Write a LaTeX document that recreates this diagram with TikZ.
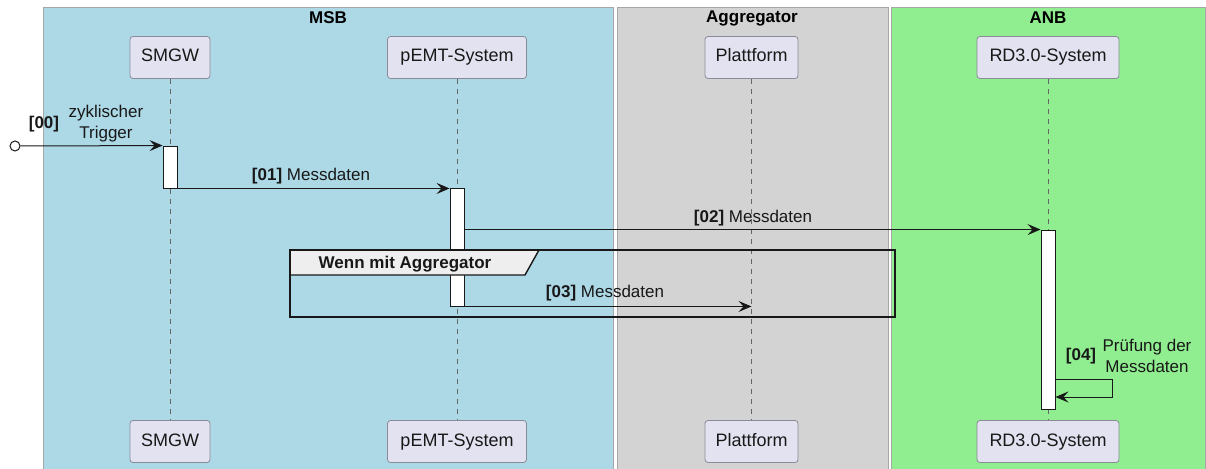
\documentclass[tikz,border=0pt]{standalone}
\usepackage{fontspec}
\setmainfont{Liberation Sans}
\usetikzlibrary{arrows.meta,calc}
\definecolor{msbfill}{HTML}{ADD8E6}
\definecolor{aggfill}{HTML}{D3D3D3}
\definecolor{anbfill}{HTML}{90EE90}
\definecolor{partfill}{HTML}{E2E2F0}
\definecolor{partline}{HTML}{8A8A99}
\definecolor{ink}{HTML}{181818}
\definecolor{tabfill}{HTML}{EEEEEE}
\begin{document}
\begin{tikzpicture}[x=1pt,y=-1pt,
  lane/.style={draw=gray!70, line width=0.8pt},
  lanetitle/.style={font=\fontsize{17}{20}\selectfont\bfseries, text=black},
  part/.style={draw=partline, fill=partfill, rounded corners=3pt, line width=0.8pt,
    minimum height=42pt, inner sep=0pt, text height=13pt, text depth=4pt,
    font=\fontsize{18}{21}\selectfont, text=ink},
  life/.style={draw=gray!80!black, dash pattern=on 5pt off 5pt, line width=0.7pt},
  act/.style={draw=ink, fill=white, line width=0.9pt, minimum width=14pt, inner sep=0pt},
  msg/.style={draw=ink, line width=1pt, -{Stealth[length=13pt,width=11pt,inset=5pt]}},
  lbl/.style={font=\fontsize{17}{21}\selectfont, text=ink, inner sep=0pt, align=center},
  frame/.style={draw=ink, line width=1.4pt}
]
\useasboundingbox (0,0) rectangle (1206,468);

% swim lanes
\fill[msbfill] (43,7) rectangle (613,470);
\fill[aggfill] (617,7) rectangle (888,470);
\fill[anbfill] (891,7) rectangle (1205,470);
\draw[lane] (43,470) -- (43,7) -- (613,7) -- (613,470);
\draw[lane] (617,470) -- (617,7) -- (888,7) -- (888,470);
\draw[lane] (891,470) -- (891,7) -- (1205,7) -- (1205,470);
\node[lanetitle] (tmsb) at (328,18) {MSB};
\node[lanetitle] (tagg) at (752,18) {Aggregator};
\node[lanetitle] (tanb) at (1048,18) {ANB};

% participants (top and bottom)
\node[part, minimum width=80pt]  (smgwT) at (170,57.5) {SMGW};
\node[part, minimum width=139pt] (pemtT) at (457,57.5) {pEMT-System};
\node[part, minimum width=93pt]  (platT) at (751.5,57.5) {Plattform};
\node[part, minimum width=142pt] (rdT)   at (1048,57.5) {RD3.0-System};
\node[part, minimum width=80pt]  (smgwB) at (170,441.5) {SMGW};
\node[part, minimum width=139pt] (pemtB) at (457,441.5) {pEMT-System};
\node[part, minimum width=93pt]  (platB) at (751.5,441.5) {Plattform};
\node[part, minimum width=142pt] (rdB)   at (1048,441.5) {RD3.0-System};

% lifelines
\draw[life] (smgwT.south) -- (smgwB.north);
\draw[life] (pemtT.south) -- (pemtB.north);
\draw[life] (platT.south) -- (platB.north);
\draw[life] (rdT.south) -- (rdB.north);

% activations
\node[act, minimum height=42pt]  (aS) at (170,167) {};
\node[act, minimum height=118pt] (aP) at (457,247) {};
\node[act, minimum height=179pt] (aR) at (1048,319.5) {};

% [00] cyclic trigger
\node[draw=ink, fill=white, circle, line width=1pt, minimum size=10pt, inner sep=0pt] (start) at (15,146) {};
\draw[msg] (start.east) -- (aS.north west);
\node[lbl, font=\fontsize{17}{21}\selectfont\bfseries] (l00) at (44,124) {[00]};
\node[lbl] (l00t) at (106,124) {zyklischer\\Trigger};

% [01]
\draw[msg] (aS.south east) -- (aS.south east -| aP.west);
\node[lbl] (l01) at (311,176) {\textbf{[01]} Messdaten};

% [02]
\draw[msg] (aR.north west -| aP.east) -- (aR.north west);
\node[lbl] (l02) at (753,218) {\textbf{[02]} Messdaten};

% optional fragment
\draw[frame, fill=tabfill] (290,250) -- (539,250) -- (525,275) -- (290,275) -- cycle;
\draw[frame] (290,250) rectangle (895,317);
\node[lbl, font=\fontsize{17}{21}\selectfont\bfseries] (fragt) at (405,264) {Wenn mit Aggregator};

% [03]
\draw[msg] (aP.south east) -- (aP.south east -| platT.south);
\node[lbl] (l03) at (605,293) {\textbf{[03]} Messdaten};

% [04] self check
\coordinate (s4a) at ($(aR.east)+(0,59.5)$);
\coordinate (s4b) at ($(s4a)+(57,0)$);
\coordinate (s4c) at ($(s4b)+(0,18)$);
\coordinate (s4d) at ($(s4a)+(0,18)$);
\draw[msg] (s4a) -- (s4b) -- (s4c) -- (s4d);
\node[lbl, font=\fontsize{17}{21}\selectfont\bfseries] (l04) at (1081,356) {[04]};
\node[lbl] (l04t) at (1147,356) {Prüfung der\\Messdaten};
\end{tikzpicture}
\end{document}
